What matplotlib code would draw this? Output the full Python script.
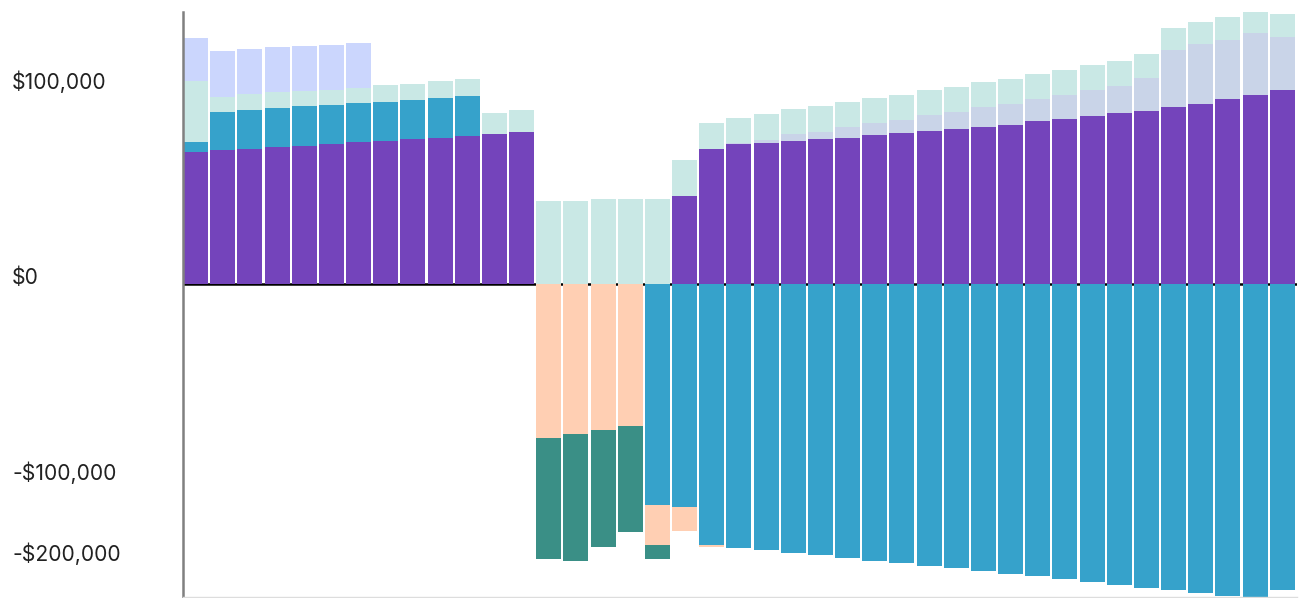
import numpy as np
import matplotlib.pyplot as plt
import matplotlib.transforms as mtransforms

# values in thousands of dollars, one entry per year (41 bars)
purple = [67.7, 68.7, 69.2, 70.2, 70.7, 71.8, 72.8, 73.3, 74.3, 74.8, 75.9, 76.9, 77.9,
          0, 0, 0, 0, 0,
          45.2, 69.2, 71.8, 72.3, 73.3, 74.3, 74.8, 76.4, 77.4, 78.4, 79.4, 80.5,
          81.9, 83.5, 84.5, 86.1, 87.6, 88.6, 90.7, 92.2, 94.8, 96.8, 99.4]
blue_pos = [5.1, 19.4, 20.0, 20.0, 20.5, 19.9, 19.9, 20.0, 20.0, 20.5, 20.4] + [0] * 30
slate = [0] * 20 + [0.6, 1.5, 3.6, 3.6, 5.7, 6.1, 6.6, 8.2, 8.7, 10.2,
                    10.3, 11.3, 12.3, 13.3, 13.8, 16.9, 29.1, 30.7, 30.6, 31.7, 27.1]
teal = [31.2, 7.7, 8.2, 8.2, 7.7, 7.7, 8.1, 8.6, 8.2, 8.7, 8.7, 10.7, 11.3,
        42.6, 42.6, 43.6, 43.6, 43.6,
        18.4, 13.3, 12.7, 13.3, 12.8, 13.3, 12.7, 12.8, 12.8, 12.8, 12.8, 12.8,
        12.8, 12.8, 12.8, 12.8, 12.8, 12.3, 11.3, 11.3, 11.3, 11.3, 11.8]
periwinkle = [22.0, 23.5, 23.0, 23.0, 23.0, 23.0, 22.6] + [0] * 34

# negative side (drawn downward from zero)
blue_neg = [0] * 17 + [112.9, 113.9, 133.4, 134.9, 135.9, 137.4, 138.5, 140.0, 141.5, 142.5,
                       144.1, 145.1, 146.6, 148.2, 149.2, 150.7, 152.2, 153.8, 155.3, 156.4,
                       157.9, 159.4, 162.0, 156.4]
peach = [0] * 13 + [78.6, 76.6, 74.5, 72.5, 20.5, 12.3, 1.0] + [0] * 21
green = [0] * 13 + [61.9, 64.9, 59.9, 54.2, 7.1] + [0] * 23

tick_labels = ["$100,000", "$0", "-$100,000", "-$200,000"]
tick_pos = [100000, 0, -100000, -141500]  # lowest label sits inside the plot

x = np.arange(len(purple))
w = 0.92

fig = plt.figure(figsize=(12.99, 5.98), dpi=100)
ax = fig.add_axes([183 / 1299, 1 / 598, 1114 / 1299, 585 / 598])

pos_series = [(purple, "#7444bb"), (blue_pos, "#36a2cb"), (slate, "#c9d4e8"),
              (teal, "#c9e8e5"), (periwinkle, "#cbd6fd")]
bottom = np.zeros(len(x))
for vals, col in pos_series:
    v = np.array(vals) * 1000
    ax.bar(x, v, w, bottom=bottom, color=col, zorder=2)
    bottom += v

neg_series = [(blue_neg, "#36a2cb"), (peach, "#ffcfb3"), (green, "#3a8f86")]
bottom = np.zeros(len(x))
for vals, col in neg_series:
    v = -np.array(vals) * 1000
    ax.bar(x, v, w, bottom=bottom, color=col, zorder=2)
    bottom += v

ax.axhline(0, color="black", lw=1.8, zorder=1)

ax.set_xlim(-0.46, 40.54)
ax.set_ylim(-160000, 139500)
ax.set_xticks([])
ax.set_yticks([])
for s in ["top", "right"]:
    ax.spines[s].set_visible(False)
ax.spines["left"].set_color("#808080")
ax.spines["left"].set_linewidth(1.8)
ax.spines["bottom"].set_color("#dddddd")
ax.spines["bottom"].set_linewidth(1)

trans = mtransforms.blended_transform_factory(fig.transFigure, ax.transData)
for lab, p in zip(tick_labels, tick_pos):
    ax.text(12 / 1299, p, lab, transform=trans, ha="left", va="baseline",
            fontsize=15.2, family="Inter", color="#222222", clip_on=False)

fig.savefig("out.png", dpi=100)
